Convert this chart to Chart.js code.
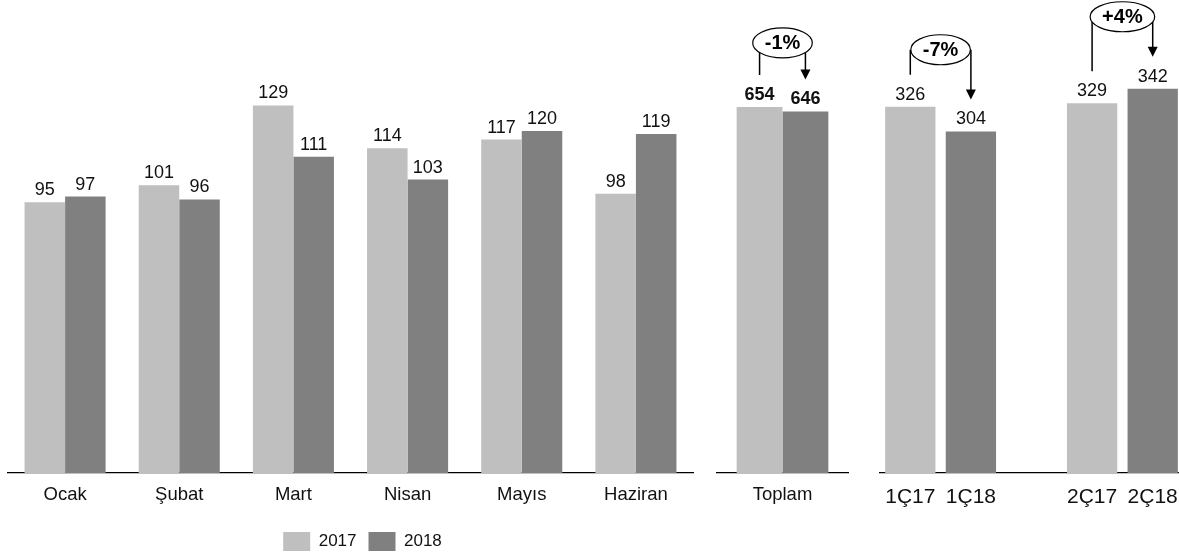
<!DOCTYPE html>
<html lang="tr">
<head>
<meta charset="utf-8">
<title>2017 - 2018 aylık karşılaştırma</title>
<script src="https://cdn.jsdelivr.net/npm/chart.js@4.4.1/dist/chart.umd.min.js"></script>
<style>
  html, body { margin: 0; padding: 0; background: #fff; }
  body { width: 1179px; height: 556px; position: relative; overflow: hidden; }
  canvas { position: absolute; top: 0; }
</style>
</head>
<body>
<canvas id="chart-aylik" width="734" height="556" style="left:0"></canvas>
<canvas id="chart-toplam" width="170" height="556" style="left:700px"></canvas>
<canvas id="chart-ceyrek" width="323" height="556" style="left:860px"></canvas>
<script>
/* ── Data ─────────────────────────────────────────────────── */
const months      = ['Ocak', 'Şubat', 'Mart', 'Nisan', 'Mayıs', 'Haziran'];
const monthly2017 = [95, 101, 129, 114, 117, 98];
const monthly2018 = [97, 96, 111, 103, 120, 119];

const totalLabels = ['Toplam'];
const total2017   = [654];
const total2018   = [646];

const quarterLabels = ['1Ç17', '1Ç18', '', '2Ç17', '2Ç18'];
const quarter2017   = [326, 329];
const quarter2018   = [304, 342];

/* ── Styles ───────────────────────────────────────────────── */
const FONT = "'Liberation Sans', Arial, sans-serif";
const C17  = '#BFBFBF';
const C18  = '#808080';
const BASE_GAP = 83;   // px from x axis line to canvas bottom

/* ── Plugins ──────────────────────────────────────────────── */
const barValues = {
  id: 'barValues',
  afterDatasetsDraw(chart, args, opts) {
    const ctx = chart.ctx;
    ctx.save();
    ctx.font = `${opts.bold ? 'bold ' : ''}18px ${FONT}`;
    ctx.fillStyle = '#111';
    ctx.textAlign = 'center';
    ctx.textBaseline = 'alphabetic';
    chart.data.datasets.forEach((ds, i) => {
      chart.getDatasetMeta(i).data.forEach((bar, j) => {
        if (ds.data[j] == null) return;
        ctx.fillText(ds.data[j], bar.x, bar.y - 7);
      });
    });
    ctx.restore();
  }
};

// bracket with % change: line up from first bar, ellipse, arrow down to second
const changeMarks = {
  id: 'changeMarks',
  afterDatasetsDraw(chart, args, opts) {
    const ctx = chart.ctx;
    (opts.items || []).forEach(m => {
      const a  = chart.getDatasetMeta(m.from[0]).data[m.from[1]];
      const b  = chart.getDatasetMeta(m.to[0]).data[m.to[1]];
      const va = chart.data.datasets[m.from[0]].data[m.from[1]];
      const vb = chart.data.datasets[m.to[0]].data[m.to[1]];
      const pct  = Math.round((vb - va) / va * 100);
      const text = (pct > 0 ? '+' : '') + pct + '%';
      const gap = 32;
      const cx = (a.x + b.x) / 2;
      const cy = Math.min(a.y, b.y) - m.lift;

      ctx.save();
      ctx.font = `bold 20px ${FONT}`;
      const rx = ctx.measureText(text).width / 2 + 12, ry = 15;
      ctx.strokeStyle = '#000';
      ctx.fillStyle = '#000';
      ctx.lineWidth = 1.5;
      ctx.beginPath();
      ctx.moveTo(a.x, a.y - gap); ctx.lineTo(a.x, cy);
      ctx.moveTo(b.x, cy);        ctx.lineTo(b.x, b.y - gap - 8);
      ctx.stroke();
      ctx.beginPath();
      ctx.moveTo(b.x - 5, b.y - gap - 10);
      ctx.lineTo(b.x + 5, b.y - gap - 10);
      ctx.lineTo(b.x, b.y - gap);
      ctx.closePath();
      ctx.fill();

      ctx.beginPath();
      ctx.ellipse(cx, cy, rx, ry, 0, 0, Math.PI * 2);
      ctx.fillStyle = '#fff';
      ctx.fill();
      ctx.lineWidth = 1.2;
      ctx.stroke();
      ctx.fillStyle = '#000';
      ctx.textAlign = 'center';
      ctx.textBaseline = 'middle';
      ctx.fillText(text, cx, cy + 1);
      ctx.restore();
    });
  }
};

// nudge the legend box after layout (it sits off-centre in the original)
const legendShift = {
  id: 'legendShift',
  afterLayout(chart, args, opts) {
    const lg = chart.legend;
    if (!lg || !opts) return;
    lg.left += opts.dx || 0; lg.right += opts.dx || 0;
    lg.top  += opts.dy || 0; lg.bottom += opts.dy || 0;
  }
};

/* ── Helpers ──────────────────────────────────────────────── */
// tick padding is kept small and lineHeight pushes the labels down instead,
// so the wide quarter labels don't make Chart.js shrink the plot area
function xScale(fontSize, lineHeight, height) {
  return {
    grid: { display: false, drawTicks: false },
    border: { display: true, color: '#000', width: 1.2 },
    ticks: {
      color: '#111', padding: 2, autoSkip: false, maxRotation: 0,
      font: { family: FONT, size: fontSize, lineHeight }
    },
    afterFit(scale) { scale.height = height; }
  };
}

function yScale(max) {
  return { display: false, min: 0, max };
}

function initBarChart(canvasId, labels, datasets, opts) {
  const ctx = document.getElementById(canvasId);
  if (!ctx) return;
  return new Chart(ctx, {
    type: 'bar',
    data: { labels, datasets },
    plugins: [barValues, changeMarks, legendShift],
    options: {
      responsive: false,
      devicePixelRatio: 1,
      animation: false,
      layout: { padding: opts.padding },
      scales: {
        x: xScale(opts.tickSize, opts.tickLine, opts.axisHeight),
        y: yScale(opts.yMax)
      },
      plugins: {
        legend: opts.legend || { display: false },
        tooltip: { enabled: false },
        barValues: { bold: !!opts.bold },
        changeMarks: { items: opts.marks || [] },
        legendShift: opts.legendShift || {}
      }
    }
  });
}

/* ── Charts ───────────────────────────────────────────────── */
const LEGEND_PAD = 12;

initBarChart('chart-aylik', months, [
  { label: '2017', data: monthly2017, backgroundColor: C17, borderWidth: 0, barPercentage: 1, categoryPercentage: 0.71 },
  { label: '2018', data: monthly2018, backgroundColor: C18, borderWidth: 0, barPercentage: 1, categoryPercentage: 0.71 }
], {
  padding: { left: 8, right: 41, top: 0, bottom: 0 },
  tickSize: 18.5, tickLine: 2.2,
  axisHeight: BASE_GAP - (19 + LEGEND_PAD + 10),
  yMax: 166,
  legend: {
    display: true,
    position: 'bottom',
    labels: {
      color: '#111', boxWidth: 27, boxHeight: 19, padding: LEGEND_PAD,
      font: { family: FONT, size: 17 }
    }
  },
  legendShift: { dx: 12, dy: 5 }
});

initBarChart('chart-toplam', totalLabels, [
  { label: '2017', data: total2017, backgroundColor: C17, borderWidth: 0, barPercentage: 1, categoryPercentage: 0.70 },
  { label: '2018', data: total2018, backgroundColor: C18, borderWidth: 0, barPercentage: 1, categoryPercentage: 0.70 }
], {
  padding: { left: 17, right: 22, top: 0, bottom: 0 },
  tickSize: 18.5, tickLine: 2.2,
  axisHeight: BASE_GAP,
  yMax: 845,
  bold: true,
  marks: [{ from: [0, 0], to: [1, 0], lift: 64 }]
});

const q17 = [quarter2017[0], null, null, quarter2017[1], null];
const q18 = [null, quarter2018[0], null, null, quarter2018[1]];

// the quarter axis runs a little past the right edge of the picture
initBarChart('chart-ceyrek', quarterLabels, [
  { label: '2017', data: q17, backgroundColor: C17, borderWidth: 0, grouped: false, barPercentage: 0.83, categoryPercentage: 1 },
  { label: '2018', data: q18, backgroundColor: C18, borderWidth: 0, grouped: false, barPercentage: 0.83, categoryPercentage: 1 }
], {
  padding: { left: 20, right: 0, top: 0, bottom: 0 },
  tickSize: 21, tickLine: 2.15,
  axisHeight: BASE_GAP,
  yMax: 421,
  marks: [
    { from: [0, 0], to: [1, 1], lift: 57 },
    { from: [0, 3], to: [1, 4], lift: 72 }
  ]
});
</script>
</body>
</html>
